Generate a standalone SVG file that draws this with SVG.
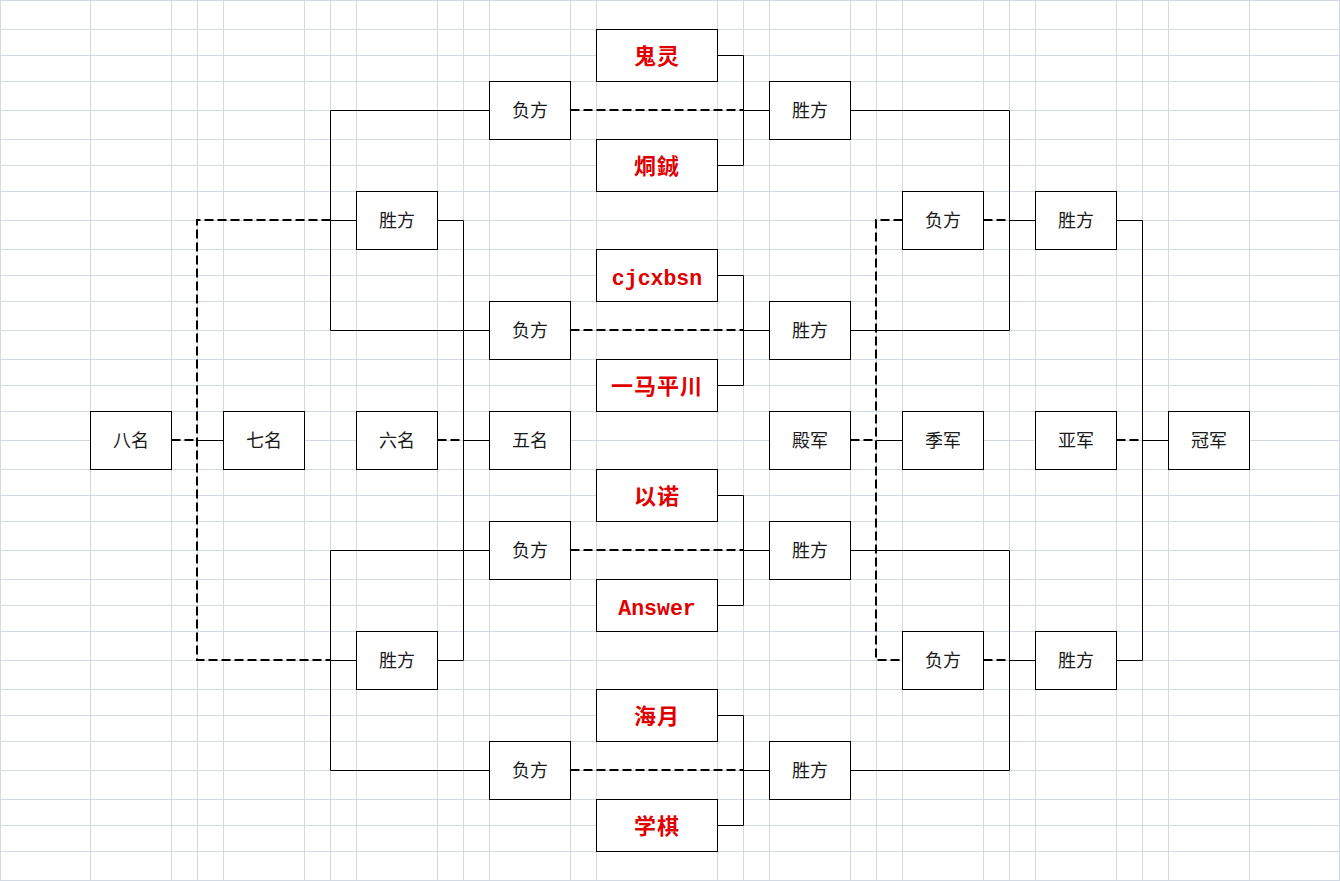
<svg xmlns="http://www.w3.org/2000/svg" width="1340" height="881" viewBox="0 0 1340 881">
<style>
.grid line{stroke:#d3d9e2;stroke-width:1}
.box{fill:#fff;stroke:#000;stroke-width:1}
.solid{fill:none;stroke:#000;stroke-width:1}
.dash{fill:none;stroke:#000;stroke-width:2;stroke-dasharray:9 4}
.lbl{font-family:"Noto Sans CJK SC","Liberation Sans",sans-serif;font-size:18px;fill:#1a1a1a;text-anchor:middle}
.name{font-family:"Noto Sans CJK SC","Liberation Sans",sans-serif;font-size:22px;font-weight:bold;fill:#e00000;text-anchor:middle;letter-spacing:1px}
.lat{font-family:"Liberation Mono",monospace;font-size:21.5px;font-weight:bold;fill:#e00000;text-anchor:middle}
</style>
<rect width="1340" height="881" fill="#fff"/>
<g class="grid">
<line x1="0.5" y1="0" x2="0.5" y2="881"/><line x1="90.5" y1="0" x2="90.5" y2="881"/><line x1="171.5" y1="0" x2="171.5" y2="881"/><line x1="197.5" y1="0" x2="197.5" y2="881"/><line x1="223.5" y1="0" x2="223.5" y2="881"/><line x1="304.5" y1="0" x2="304.5" y2="881"/><line x1="330.5" y1="0" x2="330.5" y2="881"/><line x1="356.5" y1="0" x2="356.5" y2="881"/><line x1="437.5" y1="0" x2="437.5" y2="881"/><line x1="463.5" y1="0" x2="463.5" y2="881"/><line x1="489.5" y1="0" x2="489.5" y2="881"/><line x1="570.5" y1="0" x2="570.5" y2="881"/><line x1="596.5" y1="0" x2="596.5" y2="881"/><line x1="717.5" y1="0" x2="717.5" y2="881"/><line x1="743.5" y1="0" x2="743.5" y2="881"/><line x1="769.5" y1="0" x2="769.5" y2="881"/><line x1="850.5" y1="0" x2="850.5" y2="881"/><line x1="876.5" y1="0" x2="876.5" y2="881"/><line x1="902.5" y1="0" x2="902.5" y2="881"/><line x1="983.5" y1="0" x2="983.5" y2="881"/><line x1="1009.5" y1="0" x2="1009.5" y2="881"/><line x1="1035.5" y1="0" x2="1035.5" y2="881"/><line x1="1116.5" y1="0" x2="1116.5" y2="881"/><line x1="1142.5" y1="0" x2="1142.5" y2="881"/><line x1="1168.5" y1="0" x2="1168.5" y2="881"/><line x1="1249.5" y1="0" x2="1249.5" y2="881"/><line x1="1339.5" y1="0" x2="1339.5" y2="881"/>
<line x1="0" y1="0.5" x2="1340" y2="0.5"/><line x1="0" y1="29.5" x2="1340" y2="29.5"/><line x1="0" y1="55.5" x2="1340" y2="55.5"/><line x1="0" y1="81.5" x2="1340" y2="81.5"/><line x1="0" y1="110.5" x2="1340" y2="110.5"/><line x1="0" y1="139.5" x2="1340" y2="139.5"/><line x1="0" y1="165.5" x2="1340" y2="165.5"/><line x1="0" y1="191.5" x2="1340" y2="191.5"/><line x1="0" y1="220.5" x2="1340" y2="220.5"/><line x1="0" y1="249.5" x2="1340" y2="249.5"/><line x1="0" y1="275.5" x2="1340" y2="275.5"/><line x1="0" y1="301.5" x2="1340" y2="301.5"/><line x1="0" y1="330.5" x2="1340" y2="330.5"/><line x1="0" y1="359.5" x2="1340" y2="359.5"/><line x1="0" y1="385.5" x2="1340" y2="385.5"/><line x1="0" y1="411.5" x2="1340" y2="411.5"/><line x1="0" y1="440.5" x2="1340" y2="440.5"/><line x1="0" y1="469.5" x2="1340" y2="469.5"/><line x1="0" y1="495.5" x2="1340" y2="495.5"/><line x1="0" y1="521.5" x2="1340" y2="521.5"/><line x1="0" y1="550.5" x2="1340" y2="550.5"/><line x1="0" y1="579.5" x2="1340" y2="579.5"/><line x1="0" y1="605.5" x2="1340" y2="605.5"/><line x1="0" y1="631.5" x2="1340" y2="631.5"/><line x1="0" y1="660.5" x2="1340" y2="660.5"/><line x1="0" y1="689.5" x2="1340" y2="689.5"/><line x1="0" y1="715.5" x2="1340" y2="715.5"/><line x1="0" y1="741.5" x2="1340" y2="741.5"/><line x1="0" y1="770.5" x2="1340" y2="770.5"/><line x1="0" y1="799.5" x2="1340" y2="799.5"/><line x1="0" y1="825.5" x2="1340" y2="825.5"/><line x1="0" y1="851.5" x2="1340" y2="851.5"/><line x1="0" y1="880.5" x2="1340" y2="880.5"/>
</g>
<g id="connectors">
<path class="solid" d="M330.5,110.5H489.5M330.5,110.5V330.5H489.5M330.5,220.5H356.5M437.5,220.5H463.5V660.5H437.5M463.5,440.5H489.5M330.5,550.5H489.5M330.5,550.5V770.5H489.5M330.5,660.5H356.5M197,440.5H223.5"/>
<path class="solid" d="M717.5,55.5H743.5V165.5H717.5M743.5,110.5H769.5M717.5,275.5H743.5V385.5H717.5M743.5,330.5H769.5M717.5,495.5H743.5V605.5H717.5M743.5,550.5H769.5M717.5,715.5H743.5V825.5H717.5M743.5,770.5H769.5"/>
<path class="solid" d="M850.5,110.5H1009.5V330.5H850.5M1009.5,220.5H1035.5M850.5,550.5H1009.5V770.5H850.5M1009.5,660.5H1035.5M876.5,440.5H902.5M1116.5,220.5H1142.5V660.5H1116.5M1142.5,440.5H1168.5"/>
<path class="dash" d="M171.5,440H197M330.5,220H197V660H330.5M437.5,440H463"/>
<path class="dash" d="M570.5,110H743M570.5,330H743M570.5,550H743M570.5,770H743"/>
<path class="dash" d="M983.5,220H1009M983.5,660H1009M902.5,220H876V660H902.5M850.5,440H876M1116.5,440H1142"/>
</g>
<g id="n-8"><rect class="box" x="90.5" y="411.5" width="81" height="58"/><text class="lbl" x="131" y="447">八名</text></g>
<g id="n-7"><rect class="box" x="223.5" y="411.5" width="81" height="58"/><text class="lbl" x="264" y="447">七名</text></g>
<g id="n-6"><rect class="box" x="356.5" y="411.5" width="81" height="58"/><text class="lbl" x="397" y="447">六名</text></g>
<g id="n-5"><rect class="box" x="489.5" y="411.5" width="81" height="58"/><text class="lbl" x="530" y="447">五名</text></g>
<g id="lw-1"><rect class="box" x="356.5" y="191.5" width="81" height="58"/><text class="lbl" x="397" y="227">胜方</text></g>
<g id="lw-2"><rect class="box" x="356.5" y="631.5" width="81" height="58"/><text class="lbl" x="397" y="667">胜方</text></g>
<g id="ll-1"><rect class="box" x="489.5" y="81.5" width="81" height="58"/><text class="lbl" x="530" y="117">负方</text></g>
<g id="ll-2"><rect class="box" x="489.5" y="301.5" width="81" height="58"/><text class="lbl" x="530" y="337">负方</text></g>
<g id="ll-3"><rect class="box" x="489.5" y="521.5" width="81" height="58"/><text class="lbl" x="530" y="557">负方</text></g>
<g id="ll-4"><rect class="box" x="489.5" y="741.5" width="81" height="58"/><text class="lbl" x="530" y="777">负方</text></g>
<g id="p-1"><rect class="box" x="596.5" y="29.5" width="121" height="52"/><text class="name" x="657" y="64">鬼灵</text></g>
<g id="p-2"><rect class="box" x="596.5" y="139.5" width="121" height="52"/><text class="name" x="657" y="174">烔鋮</text></g>
<g id="p-3"><rect class="box" x="596.5" y="249.5" width="121" height="52"/><text class="lat" x="657" y="285">cjcxbsn</text></g>
<g id="p-4"><rect class="box" x="596.5" y="359.5" width="121" height="52"/><text class="name" x="657" y="394">一马平川</text></g>
<g id="p-5"><rect class="box" x="596.5" y="469.5" width="121" height="52"/><text class="name" x="657" y="504">以诺</text></g>
<g id="p-6"><rect class="box" x="596.5" y="579.5" width="121" height="52"/><text class="lat" x="657" y="615">Answer</text></g>
<g id="p-7"><rect class="box" x="596.5" y="689.5" width="121" height="52"/><text class="name" x="657" y="724">海月</text></g>
<g id="p-8"><rect class="box" x="596.5" y="799.5" width="121" height="52"/><text class="name" x="657" y="834">学棋</text></g>
<g id="rw-1"><rect class="box" x="769.5" y="81.5" width="81" height="58"/><text class="lbl" x="810" y="117">胜方</text></g>
<g id="rw-2"><rect class="box" x="769.5" y="301.5" width="81" height="58"/><text class="lbl" x="810" y="337">胜方</text></g>
<g id="rw-3"><rect class="box" x="769.5" y="521.5" width="81" height="58"/><text class="lbl" x="810" y="557">胜方</text></g>
<g id="rw-4"><rect class="box" x="769.5" y="741.5" width="81" height="58"/><text class="lbl" x="810" y="777">胜方</text></g>
<g id="n-4"><rect class="box" x="769.5" y="411.5" width="81" height="58"/><text class="lbl" x="810" y="447">殿军</text></g>
<g id="n-3"><rect class="box" x="902.5" y="411.5" width="81" height="58"/><text class="lbl" x="943" y="447">季军</text></g>
<g id="rl-1"><rect class="box" x="902.5" y="191.5" width="81" height="58"/><text class="lbl" x="943" y="227">负方</text></g>
<g id="rl-2"><rect class="box" x="902.5" y="631.5" width="81" height="58"/><text class="lbl" x="943" y="667">负方</text></g>
<g id="fw-1"><rect class="box" x="1035.5" y="191.5" width="81" height="58"/><text class="lbl" x="1076" y="227">胜方</text></g>
<g id="fw-2"><rect class="box" x="1035.5" y="631.5" width="81" height="58"/><text class="lbl" x="1076" y="667">胜方</text></g>
<g id="n-2"><rect class="box" x="1035.5" y="411.5" width="81" height="58"/><text class="lbl" x="1076" y="447">亚军</text></g>
<g id="n-1"><rect class="box" x="1168.5" y="411.5" width="81" height="58"/><text class="lbl" x="1209" y="447">冠军</text></g>
</svg>
